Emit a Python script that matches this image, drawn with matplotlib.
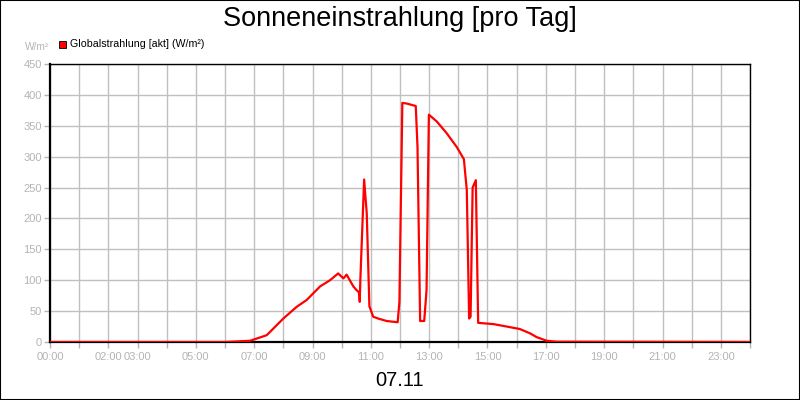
import matplotlib
matplotlib.use("Agg")
from matplotlib import pyplot as plt
from matplotlib.patches import Rectangle

plt.rcParams['font.family'] = ['Liberation Sans', 'DejaVu Sans']

# readings of the day, hour of day -> W/m²
hours = [0.0, 6.0, 6.86, 7.43, 8.0, 8.46, 8.8, 9.26, 9.6, 9.88, 10.06, 10.17, 10.4, 10.51,
         10.6, 10.62, 10.64, 10.77, 10.86, 10.95, 11.08, 11.25, 11.54, 11.92, 11.98, 12.08,
         12.23, 12.54, 12.6, 12.69, 12.83, 12.91, 12.99, 13.26, 13.6, 13.94, 14.19, 14.29,
         14.37, 14.42, 14.49, 14.6, 14.68, 15.2, 15.66, 16.11, 16.46, 16.68, 17.03, 17.37, 24.0]
values = [0, 0, 2, 11, 38, 57, 68, 90, 100, 111, 103, 109, 90, 84,
          80, 65, 100, 263, 208, 58, 41, 38, 34, 32, 65, 387,
          386, 382, 316, 34, 34, 84, 368, 357, 338, 316, 296, 246,
          38, 41, 250, 262, 31, 29, 25, 21, 14, 8, 2, 0.5, 0]

xticks_shown = [0, 2, 3, 5, 7, 9, 11, 13, 15, 17, 19, 21, 23]
yticks = list(range(0, 451, 50))

title = "Sonneneinstrahlung [pro Tag]"
subtitle = "07.11"
series_name = "Globalstrahlung [akt] (W/m²)"
unit = "W/m²"

grey = '#b4b4b4'

fig = plt.figure(figsize=(8, 4), dpi=100)
fig.patch.set_facecolor('white')
fig.patches.append(Rectangle((0, 0), 1, 1, transform=fig.transFigure, fill=False,
                             edgecolor='black', linewidth=1.5))

ax = fig.add_axes([0.0625, 0.145, 0.875, 0.695])
ax.plot(hours, values, color='#ff0000', linewidth=1.6, zorder=3)

ax.set_xlim(0, 24)
ax.set_ylim(0, 450)

# grid every hour, labels only on some of them
ax.set_xticks(range(0, 25))
ax.set_xticklabels([("%02d:00" % h) if h in xticks_shown else "" for h in range(0, 25)])
ax.set_yticks(yticks)
ax.grid(True, color='#c0c0c0', linewidth=1)
ax.set_axisbelow(True)

ax.tick_params(axis='both', colors=grey, labelcolor=grey, labelsize=8, length=4, width=1)
ax.tick_params(axis='x', pad=3)
ax.tick_params(axis='y', pad=2)

for s in ['left', 'bottom']:
    ax.spines[s].set_linewidth(1.6)
for s in ['top', 'right']:
    ax.spines[s].set_linewidth(1.0)
for s in ax.spines.values():
    s.set_color('black')

fig.text(0.5, 0.953, title, ha='center', va='center', fontsize=19.5, color='black')
fig.text(0.5, 0.048, subtitle, ha='center', va='center', fontsize=14.5, color='black')
fig.text(0.061, 0.883, unit, ha='right', va='center', fontsize=7.3, color=grey)

# legend drawn by hand, like the original chart
fig.patches.append(Rectangle((0.0735, 0.879), 0.0095, 0.019, transform=fig.transFigure,
                             facecolor='#ff0000', edgecolor='black', linewidth=0.6))
fig.text(0.087, 0.889, series_name, ha='left', va='center', fontsize=7.7, color='black')

fig.savefig('out.png', dpi=100)
